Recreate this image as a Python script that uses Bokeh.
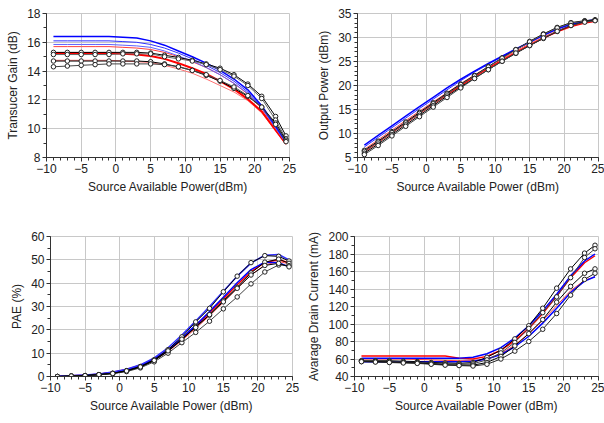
from bokeh.plotting import figure
from bokeh.layouts import column, row
from bokeh.models import Range1d, FixedTicker
from bokeh.embed import file_html
from bokeh.resources import INLINE

# ---------------- data ----------------
X = [-9, -7, -5, -3, -1, 1, 3, 5, 7, 9, 11, 13, 15, 17, 19, 21, 23, 24.5]
X_TICKS = [-10, -5, 0, 5, 10, 15, 20, 25]

# Transducer gain (dB)
gain_meas_1 = [15.3, 15.3, 15.3, 15.3, 15.3, 15.3, 15.3, 15.25, 15.1, 14.95, 14.75, 14.5, 14.2, 13.75, 13.1, 12.25, 10.85, 9.5]
gain_meas_2 = [15.15, 15.15, 15.15, 15.15, 15.15, 15.2, 15.2, 15.2, 15.0, 14.85, 14.7, 14.45, 14.1, 13.65, 13.0, 12.1, 10.6, 9.3]
gain_meas_3 = [14.7, 14.7, 14.7, 14.7, 14.7, 14.7, 14.7, 14.65, 14.5, 14.3, 14.05, 13.7, 13.3, 12.8, 12.25, 11.5, 10.4, 9.2]
gain_meas_4 = [14.3, 14.35, 14.4, 14.45, 14.5, 14.5, 14.5, 14.5, 14.45, 14.3, 14.05, 13.75, 13.35, 12.9, 12.3, 11.5, 10.3, 9.1]
gain_red_1 = [15.7, 15.7, 15.7, 15.7, 15.7, 15.65, 15.6, 15.5, 15.3, 15.0, 14.65, 14.25, 13.75, 13.15, 12.4, 11.4, 10.0, 9.0]
gain_red_2 = [15.25, 15.25, 15.25, 15.25, 15.25, 15.2, 15.15, 15.05, 14.85, 14.55, 14.2, 13.8, 13.3, 12.75, 12.05, 11.2, 9.9, 8.95]
gain_red_3 = [14.75, 14.75, 14.75, 14.75, 14.75, 14.7, 14.65, 14.6, 14.4, 14.15, 13.85, 13.45, 13.0, 12.55, 11.95, 11.1, 9.85, 8.9]
gain_blue_1 = [16.4, 16.4, 16.4, 16.4, 16.4, 16.35, 16.3, 16.1, 15.8, 15.4, 15.0, 14.55, 14.05, 13.45, 12.7, 11.6, 10.2, 9.1]
gain_blue_2 = [16.1, 16.1, 16.1, 16.1, 16.1, 16.05, 16.0, 15.85, 15.6, 15.25, 14.85, 14.4, 13.9, 13.3, 12.55, 11.5, 10.1, 9.05]
gain_blue_3 = [15.85, 15.85, 15.85, 15.85, 15.85, 15.8, 15.75, 15.65, 15.4, 15.05, 14.7, 14.25, 13.75, 13.15, 12.45, 11.45, 10.05, 9.0]

# Output power (dBm)
pout_meas_1 = [6.5, 8.4, 10.4, 12.4, 14.4, 16.4, 18.4, 20.3, 22.1, 23.95, 25.75, 27.5, 29.2, 30.75, 32.1, 33.1, 33.5, 33.7]
pout_meas_2 = [6.3, 8.2, 10.2, 12.2, 14.2, 16.2, 18.2, 20.2, 22.0, 23.85, 25.7, 27.45, 29.1, 30.65, 32.0, 33.0, 33.4, 33.6]
pout_meas_3 = [5.9, 7.8, 9.8, 11.8, 13.8, 15.8, 17.8, 19.7, 21.5, 23.3, 25.05, 26.7, 28.3, 29.8, 31.25, 32.5, 33.3, 33.6]
pout_meas_4 = [5.6, 7.5, 9.5, 11.5, 13.5, 15.5, 17.5, 19.5, 21.45, 23.3, 25.05, 26.75, 28.35, 29.9, 31.3, 32.5, 33.2, 33.5]
pout_red_1 = [6.7, 8.7, 10.7, 12.7, 14.65, 16.6, 18.5, 20.4, 22.2, 23.9, 25.55, 27.15, 28.7, 30.1, 31.4, 32.5, 33.2, 33.5]
pout_red_2 = [6.2, 8.2, 10.2, 12.2, 14.2, 16.15, 18.1, 20.0, 21.85, 23.6, 25.3, 26.9, 28.45, 29.9, 31.2, 32.3, 33.0, 33.4]
pout_blue_1 = [7.6, 9.6, 11.6, 13.6, 15.6, 17.55, 19.5, 21.3, 23.0, 24.6, 26.1, 27.6, 29.05, 30.5, 31.8, 32.8, 33.4, 33.7]
pout_blue_2 = [7.2, 9.2, 11.2, 13.2, 15.2, 17.15, 19.1, 21.0, 22.8, 24.4, 26.0, 27.5, 29.0, 30.4, 31.7, 32.7, 33.3, 33.6]

# PAE (%)
pae_meas_1 = [0.0, 0.2, 0.4, 0.8, 1.4, 2.5, 4.3, 7.2, 11.5, 17.0, 23.4, 29.2, 36.3, 43.0, 48.8, 51.8, 51.5, 49.5]
pae_meas_2 = [0.0, 0.2, 0.4, 0.8, 1.3, 2.3, 4.0, 6.8, 10.8, 15.8, 21.4, 26.3, 32.5, 38.2, 44.4, 49.0, 50.3, 48.5]
pae_meas_3 = [0.0, 0.2, 0.3, 0.7, 1.2, 2.1, 3.7, 6.3, 10.0, 14.5, 18.9, 23.7, 29.0, 34.1, 39.7, 44.8, 47.8, 47.5]
pae_meas_4 = [0.0, 0.2, 0.4, 0.8, 1.3, 2.4, 4.1, 6.9, 11.0, 16.0, 21.0, 26.5, 32.0, 37.8, 43.5, 47.6, 48.5, 47.0]
pae_red_1 = [0.1, 0.3, 0.5, 1.0, 1.8, 3.0, 4.8, 7.5, 11.3, 16.2, 21.6, 27.2, 33.2, 39.3, 44.9, 48.9, 50.0, 48.8]
pae_red_2 = [0.1, 0.3, 0.5, 0.9, 1.6, 2.7, 4.4, 7.0, 10.7, 15.4, 20.6, 26.0, 31.8, 37.8, 43.5, 47.8, 49.3, 48.3]
pae_blue_1 = [0.1, 0.3, 0.6, 1.1, 1.9, 3.1, 5.0, 8.0, 12.3, 17.8, 23.8, 30.0, 36.5, 43.0, 48.6, 52.0, 52.3, 50.0]
pae_blue_2 = [0.1, 0.3, 0.5, 1.0, 1.7, 2.8, 4.6, 7.4, 11.4, 16.5, 22.0, 27.8, 34.0, 40.2, 45.8, 49.0, 48.8, 47.0]

# Average drain current (mA)
idd_meas_1 = [58, 58, 58, 57.5, 57, 56, 55.5, 55, 56, 62, 70, 83, 98, 118, 141, 163, 181, 190]
idd_meas_2 = [58, 57.5, 57, 56.5, 56, 55, 54.5, 54, 54.5, 59, 67, 79, 95, 113, 131, 153, 176, 186]
idd_meas_3 = [57, 57, 56.5, 56, 55.5, 54.5, 53.5, 53, 53, 56, 63, 75, 89, 105, 125, 143, 158, 163]
idd_meas_4 = [57, 56.5, 56, 55.5, 55, 54, 53, 52.5, 52, 54, 60, 69, 80, 94, 112, 133, 151, 158]
idd_red_1 = [63.5, 63.5, 63.5, 63.5, 63.5, 63.5, 63.5, 61, 60, 63, 70, 81, 95, 112, 132, 153, 170, 178]
idd_red_2 = [60, 60, 60, 60, 59.5, 59, 58.5, 58, 58, 60, 66, 76, 89, 104, 121, 138, 150, 154]
idd_blue_1 = [61, 61, 61, 61, 61, 61, 61, 61, 62, 66, 73, 84, 98, 115, 134, 155, 172, 180]
idd_blue_2 = [57, 57, 57, 57, 57, 57, 57, 57, 57.5, 60, 65, 74, 86, 101, 118, 136, 149, 154]

FONT = "Liberation Sans"
TXT = "#222222"
GRID = "#c8c8c8"


def panel(w, h, ml, mr, mt, mb, yr, yticks, yminor, ylabel, sims, meas):
    p = figure(width=w, height=h, output_backend="svg", toolbar_location=None,
               min_border_left=ml, min_border_right=mr, min_border_top=mt, min_border_bottom=mb,
               x_range=Range1d(-10, 25), y_range=Range1d(*yr))
    p.background_fill_color = "white"
    p.border_fill_color = "white"
    p.outline_line_color = GRID
    p.outline_line_width = 1
    p.xaxis.ticker = FixedTicker(ticks=X_TICKS, minor_ticks=list(range(-10, 26)))
    p.yaxis.ticker = FixedTicker(ticks=yticks, minor_ticks=yminor)
    for ax in (p.xaxis[0], p.yaxis[0]):
        ax.axis_line_color = "#333333"
        ax.major_tick_line_color = "#333333"
        ax.minor_tick_line_color = "#333333"
        ax.major_tick_out = 4
        ax.major_tick_in = 0
        ax.minor_tick_out = 3
        ax.minor_tick_in = 0
        ax.major_label_text_font = FONT
        ax.major_label_text_font_size = "12px"
        ax.major_label_text_color = TXT
        ax.axis_label_text_font = FONT
        ax.axis_label_text_font_size = "12px"
        ax.axis_label_text_font_style = "normal"
        ax.axis_label_text_color = TXT
        ax.major_label_standoff = 2
        ax.axis_label_standoff = 4
    p.xaxis.axis_label = "Source Available Power (dBm)"
    p.yaxis.axis_label = ylabel
    p.xgrid.ticker = p.xaxis[0].ticker
    p.ygrid.ticker = p.yaxis[0].ticker
    p.grid.grid_line_color = GRID
    p.grid.grid_line_width = 1
    for ys, col, lw in sims:
        p.line(X, ys, line_color=col, line_width=lw)
    for ys, col in meas:
        p.line(X, ys, line_color=col, line_width=1)
        p.scatter(X, ys, marker="circle", size=4.5, line_color="#222222", fill_color="white", line_width=1)
    return p


p1 = panel(300, 210, 46, 11, 13, 53, (8, 18), [8, 10, 12, 14, 16, 18], list(range(8, 19)),
           "Transucer Gain (dB)",
           [(gain_red_3, "#ff7070", 1), (gain_red_2, "#ff0000", 2), (gain_red_1, "#ff4040", 1),
            (gain_blue_3, "#6060ff", 1), (gain_blue_2, "#3030ff", 1), (gain_blue_1, "#0000ff", 1.5)],
           [(gain_meas_1, "#000000"), (gain_meas_2, "#666666"), (gain_meas_3, "#000000"), (gain_meas_4, "#444444")])
p1.xaxis.axis_label = "Source Available Power(dBm)"

p2 = panel(304, 210, 57, 6, 12, 48, (5, 35), [5, 10, 15, 20, 25, 30, 35], list(range(5, 36, 1)),
           "Output Power (dBm)",
           [(pout_red_2, "#ff0000", 1.5), (pout_red_1, "#ff5050", 1),
            (pout_blue_2, "#3030ff", 1), (pout_blue_1, "#0000ff", 1.5)],
           [(pout_meas_1, "#000000"), (pout_meas_2, "#555555"), (pout_meas_3, "#000000"), (pout_meas_4, "#444444")])

p3 = panel(300, 213, 50, 8, 22, 43, (0, 60), [0, 10, 20, 30, 40, 50, 60], list(range(0, 61, 5)),
           "PAE (%)",
           [(pae_red_2, "#ff5050", 1), (pae_red_1, "#ff0000", 1.5),
            (pae_blue_2, "#0000ff", 1.5), (pae_blue_1, "#3030ff", 1.5)],
           [(pae_meas_1, "#000000"), (pae_meas_2, "#000000"), (pae_meas_3, "#444444"), (pae_meas_4, "#000000")])

p4 = panel(304, 213, 54, 6, 26, 47, (40, 200), [40, 60, 80, 100, 120, 140, 160, 180, 200],
           list(range(40, 201, 10)),
           "Avarage Drain Current (mA)",
           [(idd_red_1, "#ff0000", 1.5), (idd_red_2, "#ff4040", 1),
            (idd_blue_1, "#0000ff", 1.5), (idd_blue_2, "#0000ff", 1.5)],
           [(idd_meas_1, "#000000"), (idd_meas_2, "#444444"), (idd_meas_3, "#000000"), (idd_meas_4, "#222222")])

layout = column(row(p1, p2), row(p3, p4))
open("out.html", "w").write(file_html(layout, INLINE))
